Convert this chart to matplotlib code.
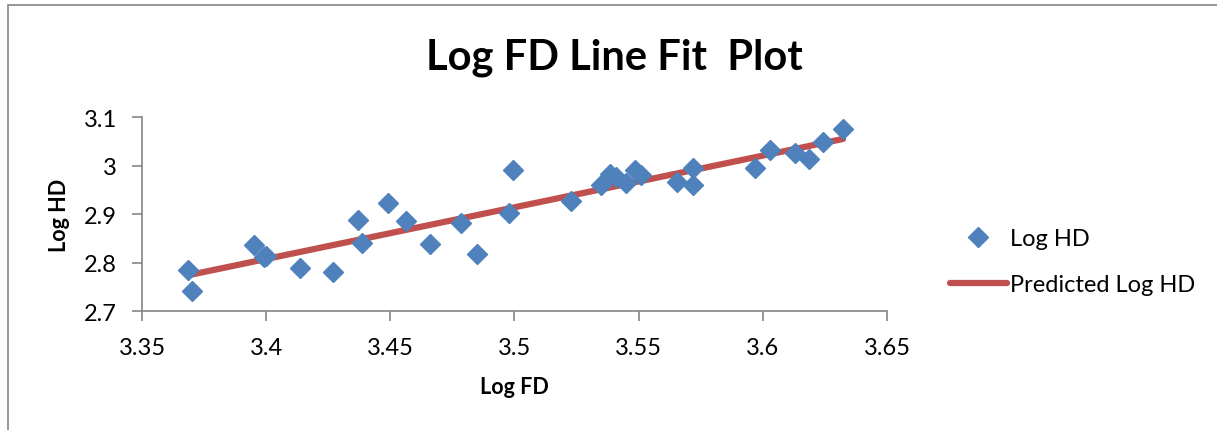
import matplotlib.pyplot as plt
import numpy as np

plt.rcParams['font.family'] = ['Lato', 'DejaVu Sans']

# observed values
log_fd = [3.3686, 3.3700, 3.3951, 3.3990, 3.4000, 3.4136, 3.4268, 3.4370,
          3.4385, 3.4490, 3.4563, 3.4660, 3.4785, 3.4850, 3.4992, 3.4976,
          3.5226, 3.5350, 3.5384, 3.5410, 3.5450, 3.5485, 3.5510, 3.5655,
          3.5720, 3.5720, 3.5970, 3.6028, 3.6129, 3.6187, 3.6243, 3.6323]
log_hd = [2.785, 2.741, 2.837, 2.811, 2.813, 2.789, 2.781, 2.888,
          2.840, 2.922, 2.885, 2.838, 2.881, 2.817, 2.991, 2.903,
          2.927, 2.960, 2.982, 2.976, 2.963, 2.991, 2.980, 2.965,
          2.995, 2.960, 2.995, 3.032, 3.026, 3.013, 3.049, 3.075]

x = np.array(log_fd)
y = np.array(log_hd)
slope, intercept = np.polyfit(x, y, 1)
order = np.argsort(x)
predicted = intercept + slope * x[order]

fig = plt.figure(figsize=(12.17, 4.31), dpi=100)
ax = fig.add_axes([0.1167, 0.2761, 0.6121, 0.4501])

ax.plot(x[order], predicted, color='#C0504D', lw=4.5, solid_capstyle='round',
        label='Predicted Log HD', zorder=2)
ax.plot(x, y, 'D', color='#4F81BD', ms=10, mec='#4F81BD', label='Log HD',
        zorder=3, linestyle='none')

ax.set_xlim(3.35, 3.65)
ax.set_ylim(2.7, 3.1)
ax.set_xticks([3.35, 3.4, 3.45, 3.5, 3.55, 3.6, 3.65])
ax.set_xticklabels(['3.35', '3.4', '3.45', '3.5', '3.55', '3.6', '3.65'])
ax.set_yticks([2.7, 2.8, 2.9, 3.0, 3.1])
ax.set_yticklabels(['2.7', '2.8', '2.9', '3', '3.1'])
for s in ['top', 'right']:
    ax.spines[s].set_visible(False)
for s in ['left', 'bottom']:
    ax.spines[s].set_color('#868686')
    ax.spines[s].set_linewidth(1.2)
ax.tick_params(direction='out', length=7, width=1.2, color='#868686',
               labelsize=17)
ax.tick_params(axis='x', pad=12)
ax.tick_params(axis='y', pad=11)

ax.set_xlabel('Log FD', fontsize=15.5, fontweight='bold')
ax.xaxis.set_label_coords(0.5, -0.335)
ax.set_ylabel('Log HD', fontsize=15.5, fontweight='bold')
ax.yaxis.set_label_coords(-0.0966, 0.5)
fig.text(0.505, 0.865, 'Log FD Line Fit  Plot', fontsize=30, fontweight='bold',
         ha='center', va='center')

handles, labels = ax.get_legend_handles_labels()
leg = fig.legend(handles[::-1], labels[::-1], loc='center left',
                 bbox_to_anchor=(0.7806, 0.391), frameon=False, fontsize=17,
                 handlelength=2.4, labelspacing=1.05, handletextpad=0.15,
                 borderpad=0, borderaxespad=0)

# chart frame
fig.patches.append(plt.Rectangle((0.0066, -0.01), 1.0, 0.996, transform=fig.transFigure,
                                 fill=False, edgecolor='#868686', lw=1.2))

fig.savefig('out.png', dpi=100)
